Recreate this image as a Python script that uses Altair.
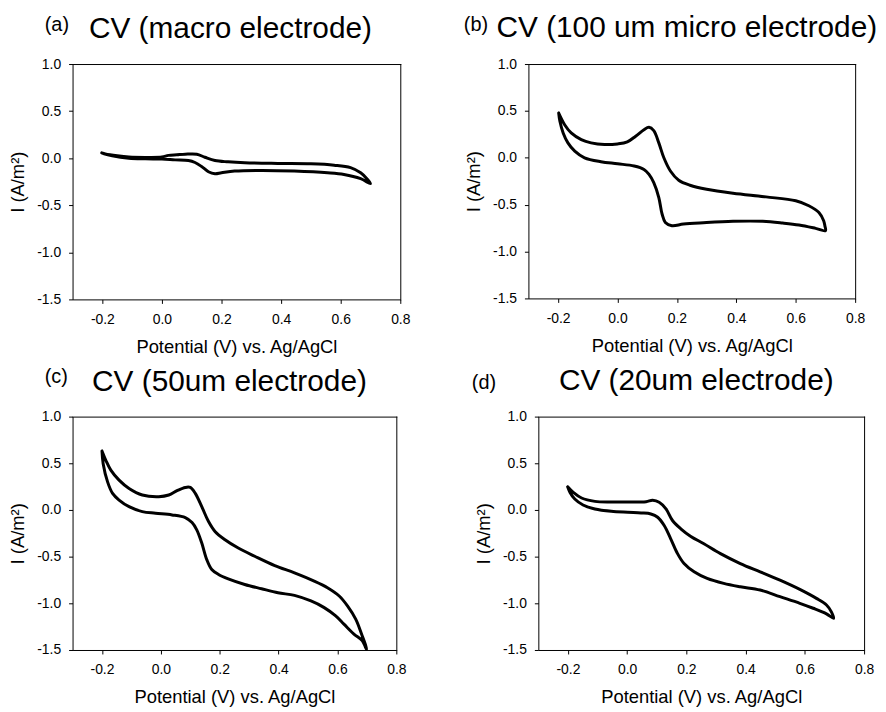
import altair as alt
import pandas as pd

FONT = "Liberation Sans"

panel_labels = ["(a)", "(b)", "(c)", "(d)"]
panel_titles = ["CV (macro electrode)", "CV (100 um micro electrode)",
                "CV (50um electrode)", "CV (20um electrode)"]
x_ticks = [-0.2, 0.0, 0.2, 0.4, 0.6, 0.8]
y_ticks = [-1.5, -1.0, -0.5, 0.0, 0.5, 1.0]
x_title = "Potential (V) vs. Ag/AgCl"
y_title = "I (A/m²)"

# (a) macro electrode: forward branch then return branch
a_x = [-0.202, -0.19, -0.15, -0.111, -0.056, 0.0, 0.022, 0.05, 0.078, 0.117, 0.144, 0.178,
       0.222, 0.278, 0.389, 0.5, 0.578, 0.633, 0.667, 0.687, 0.70,
       0.667, 0.611, 0.556, 0.444, 0.333, 0.244, 0.2, 0.178, 0.156, 0.133, 0.111, 0.089,
       0.044, 0.0, -0.056, -0.111, -0.167, -0.194, -0.202]
a_y = [0.056, 0.045, 0.025, 0.012, 0.008, 0.012, 0.03, 0.036, 0.042, 0.042, 0.01, -0.025,
       -0.039, -0.049, -0.056, -0.06, -0.074, -0.10, -0.155, -0.215, -0.27,
       -0.218, -0.173, -0.155, -0.137, -0.13, -0.137, -0.155, -0.165, -0.144, -0.088, -0.046, -0.025,
       -0.018, -0.01, -0.007, 0.0, 0.025, 0.046, 0.056]

# (b) 100 um micro electrode
b_x = [-0.198, -0.178, -0.156, -0.122, -0.089, -0.044, 0.0, 0.033, 0.061, 0.089, 0.106, 0.122,
       0.139, 0.156, 0.178, 0.206, 0.244, 0.3, 0.389, 0.5, 0.6, 0.644, 0.678, 0.694, 0.698, 0.7,
       0.667, 0.611, 0.556, 0.489, 0.389, 0.289, 0.222, 0.183, 0.161, 0.15, 0.139, 0.122, 0.106,
       0.089, 0.056, 0.0, -0.056, -0.111, -0.144, -0.167, -0.183, -0.194, -0.198]
b_y = [0.477, 0.353, 0.265, 0.194, 0.159, 0.141, 0.148, 0.17, 0.23, 0.30, 0.325, 0.29,
       0.159, 0.0, -0.141, -0.24, -0.293, -0.336, -0.378, -0.417, -0.459, -0.512, -0.583, -0.671, -0.725, -0.777,
       -0.753, -0.717, -0.696, -0.678, -0.678, -0.693, -0.707, -0.724, -0.689, -0.6, -0.424, -0.265, -0.177,
       -0.124, -0.088, -0.064, -0.042, 0.0, 0.071, 0.159, 0.265, 0.389, 0.477]

# (c) 50 um electrode
c_x = [-0.2, -0.187, -0.17, -0.142, -0.108, -0.063, -0.007, 0.027, 0.055, 0.083, 0.1, 0.117,
       0.139, 0.162, 0.184, 0.218, 0.263, 0.319, 0.387, 0.454, 0.521, 0.566, 0.606, 0.634, 0.662,
       0.684, 0.696, 0.699,
       0.684, 0.656, 0.622, 0.594, 0.555, 0.51, 0.454, 0.398, 0.342, 0.285, 0.229, 0.196, 0.173,
       0.156, 0.139, 0.122, 0.106, 0.083, 0.038, -0.018, -0.063, -0.108, -0.142, -0.164, -0.181,
       -0.196, -0.2]
c_y = [0.631, 0.532, 0.426, 0.319, 0.23, 0.16, 0.142, 0.16, 0.206, 0.241, 0.241, 0.177,
       0.035, -0.124, -0.23, -0.319, -0.408, -0.496, -0.596, -0.674, -0.762, -0.833, -0.922, -1.028, -1.17,
       -1.348, -1.454, -1.496,
       -1.40, -1.33, -1.223, -1.135, -1.046, -0.975, -0.915, -0.887, -0.844, -0.798, -0.738, -0.691, -0.638,
       -0.532, -0.355, -0.213, -0.135, -0.082, -0.053, -0.035, -0.018, 0.035, 0.106, 0.177, 0.301,
       0.496, 0.631]

# (d) 20 um electrode
d_x = [-0.201, -0.182, -0.154, -0.109, -0.054, 0.002, 0.064, 0.086, 0.108, 0.131, 0.153, 0.181,
       0.215, 0.259, 0.315, 0.382, 0.449, 0.516, 0.583, 0.639, 0.673, 0.689, 0.697,
       0.673, 0.628, 0.583, 0.516, 0.449, 0.382, 0.326, 0.27, 0.226, 0.192, 0.17, 0.147, 0.125,
       0.103, 0.08, 0.047, 0.002, -0.054, -0.109, -0.149, -0.177, -0.193, -0.201]
d_y = [0.248, 0.188, 0.128, 0.092, 0.085, 0.085, 0.089, 0.103, 0.082, 0.011, -0.113, -0.202,
       -0.284, -0.362, -0.468, -0.574, -0.663, -0.752, -0.851, -0.947, -1.018, -1.089, -1.16,
       -1.113, -1.053, -1.0, -0.929, -0.858, -0.823, -0.787, -0.734, -0.663, -0.574, -0.468, -0.309, -0.167,
       -0.078, -0.043, -0.032, -0.025, -0.014, 0.011, 0.053, 0.117, 0.188, 0.248]

LABEL_EXPR = "replace(format(datum.value, '.1f'), '\u2212', '-')"


def axis(title, ticks, pad_label, pad_title):
    return alt.Axis(values=ticks, title=title, grid=False,
                    domain=True, domainColor="black", domainWidth=1,
                    tickSize=4, tickColor="black", tickWidth=1,
                    labelPadding=pad_label, titlePadding=pad_title,
                    labelFlush=False, labelOverlap=False, labelExpr=LABEL_EXPR,
                    labelFont=FONT, labelFontSize=14, labelColor="black",
                    titleFont=FONT, titleFontSize=18.5, titleFontWeight="normal",
                    titleColor="black")


def panel(xs, ys, label, title, w, h, lab_x, lab_y, title_dx, title_y):
    df = pd.DataFrame({"E": xs, "I": ys, "step": list(range(len(xs)))})
    xa = axis(x_title, x_ticks, 9, 11)
    ya = axis(y_title, y_ticks, 8, 9)
    line = alt.Chart(df).mark_line(
        color="black", strokeWidth=3, interpolate="catmull-rom",
        strokeJoin="round", strokeCap="round"
    ).encode(
        x=alt.X("E:Q", scale=alt.Scale(domain=[-0.3, 0.8], nice=False, zero=False), axis=xa),
        y=alt.Y("I:Q", scale=alt.Scale(domain=[-1.5, 1.0], nice=False, zero=False), axis=ya),
        order="step:Q",
    )
    one = pd.DataFrame({"t": [label]})
    # top and right edges of the frame box (left/bottom come from the axis domains)
    top_edge = alt.Chart(one).mark_rule(color="black", strokeWidth=1).encode(
        x=alt.value(0), x2=alt.value(w + 1), y=alt.value(0.5))
    right_edge = alt.Chart(one).mark_rule(color="black", strokeWidth=1).encode(
        x=alt.value(w + 0.5), y=alt.value(0), y2=alt.value(h + 1))
    lab = alt.Chart(one).mark_text(
        align="left", baseline="alphabetic", fontSize=20, font=FONT, color="black"
    ).encode(x=alt.value(lab_x), y=alt.value(lab_y), text="t:N")
    ttl = alt.Chart(pd.DataFrame({"t": [title]})).mark_text(
        align="center", baseline="alphabetic", fontSize=30, font=FONT, color="black"
    ).encode(x=alt.value(w / 2 + title_dx), y=alt.value(title_y), text="t:N")
    return alt.layer(line, top_edge, right_edge, lab, ttl).properties(width=w, height=h)


pa = panel(a_x, a_y, panel_labels[0], panel_titles[0], 330, 237, -28, -33, -6, -26)
pb = panel(b_x, b_y, panel_labels[1], panel_titles[1], 329, 236, -65, -33, -5, -27)
pc = panel(c_x, c_y, panel_labels[2], panel_titles[2], 326, 235, -28, -34, -5, -26)
pd_ = panel(d_x, d_y, panel_labels[3], panel_titles[3], 328, 235, -67, -28, -5, -27)

row1 = alt.hconcat(pa, pb, spacing=54)
row2 = alt.hconcat(pc, pd_, spacing=66)

chart = alt.vconcat(row1, row2, spacing=10).properties(
    padding={"left": 0, "top": 3, "right": 0, "bottom": 0}
).configure(background="white").configure_view(strokeWidth=0)

chart.save("out.html", embed_options={"renderer": "svg", "actions": False})
